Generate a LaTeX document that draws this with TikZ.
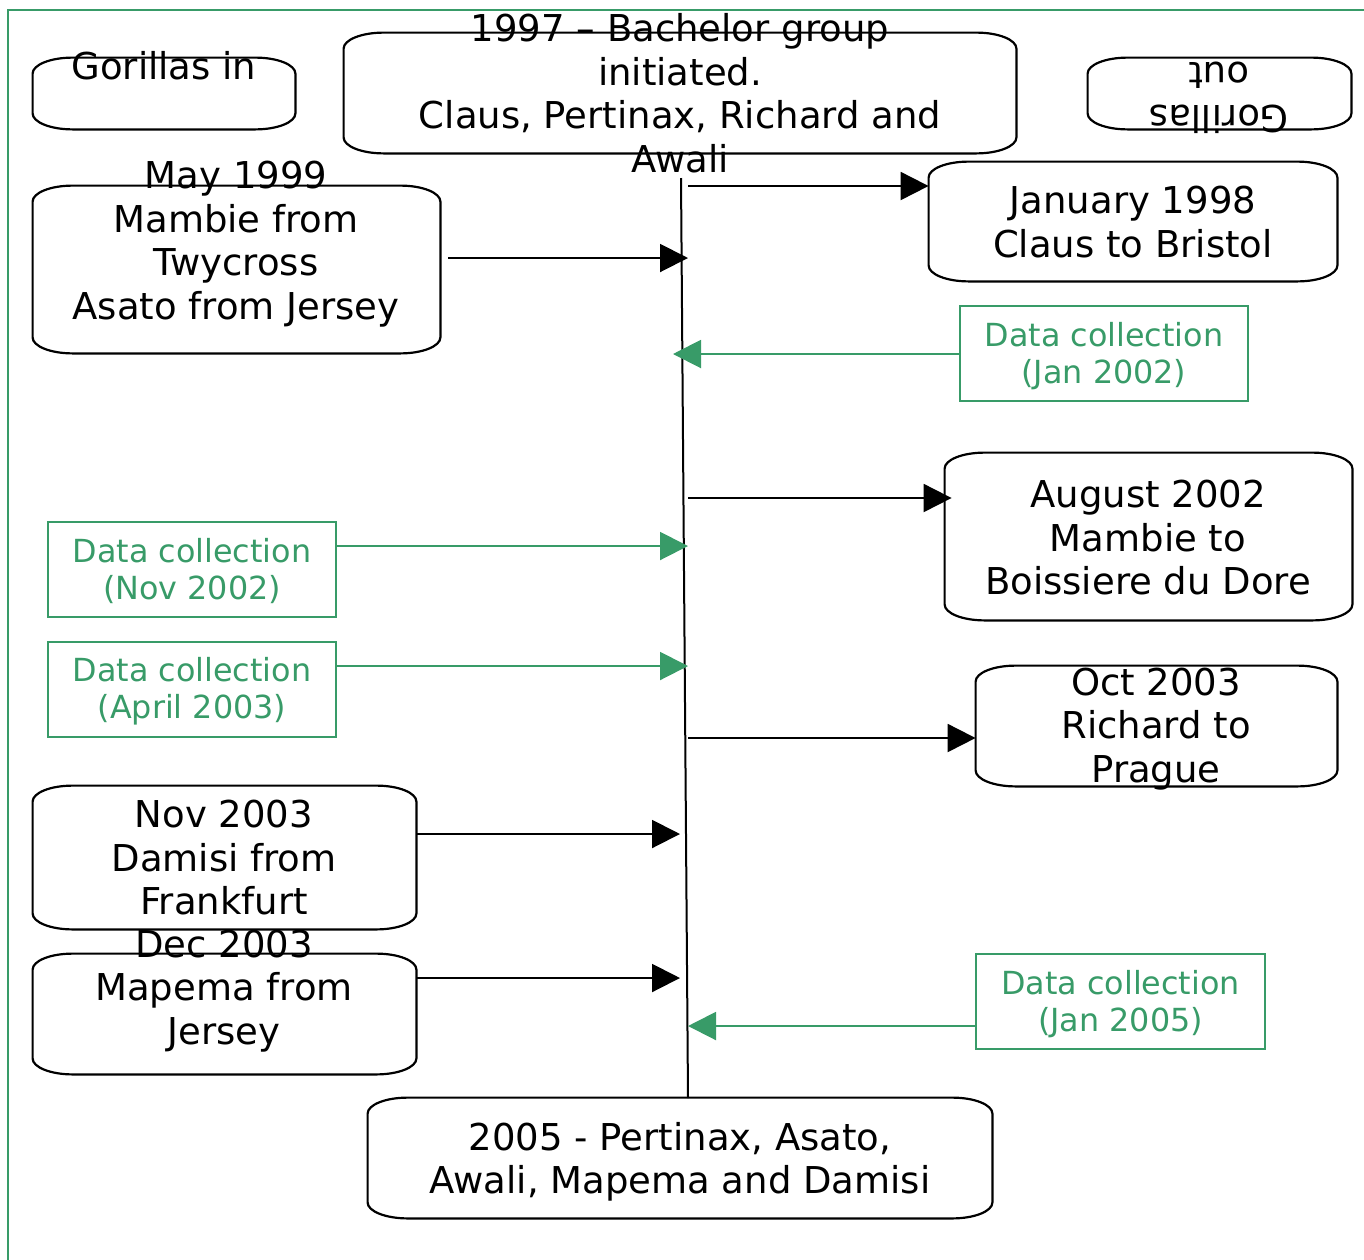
\documentclass[tikz,border=0pt]{standalone}
\usepackage{fontspec}
\setmainfont{DejaVu Sans}
\usetikzlibrary{arrows.meta,calc,fit}

\definecolor{dcgreen}{RGB}{56,155,104}

% box with wide flat corners round a fitted node
\newcommand{\ovalbox}[1]{%
  \draw[line width=1.1pt] ($(#1.south west)+(20pt,0)$) -- ($(#1.south east)+(-20pt,0)$)
    arc[start angle=-90,end angle=0,x radius=20pt,y radius=8pt]
    -- ($(#1.north east)+(0,-8pt)$)
    arc[start angle=0,end angle=90,x radius=20pt,y radius=8pt]
    -- ($(#1.north west)+(20pt,0)$)
    arc[start angle=90,end angle=180,x radius=20pt,y radius=8pt]
    -- ($(#1.south west)+(0,8pt)$)
    arc[start angle=180,end angle=270,x radius=20pt,y radius=8pt] -- cycle;}

\begin{document}
\begin{tikzpicture}[x=0.5pt,y=-0.5pt,
    slot/.style={inner sep=0pt},
    evt/.style={align=center,inner sep=0pt,font=\fontsize{18.5}{21.75}\selectfont},
    dcbox/.style={draw=dcgreen,line width=1pt,inner sep=0pt,align=center,text=dcgreen,
      font=\fontsize{15.9}{18.5}\selectfont},
    blk/.style={line width=1pt,-{Triangle[length=14pt,width=14pt]}},
    grn/.style={draw=dcgreen,line width=1pt,-{Triangle[length=14pt,width=14pt]},dcgreen}]
  \useasboundingbox (0,0) rectangle (1364,1259);

  % frame
  \draw[dcgreen,line width=1pt] (8,10) rectangle (1390,1290);

  % event boxes
  \node[slot,fit={(33,58)(295,129)}] (gin) {};
  \node[slot,fit={(1088,58)(1351,129)}] (gout) {};
  \node[slot,fit={(344,33)(1016,153)}] (start) {};
  \node[slot,fit={(33,186)(440,353)}] (may) {};
  \node[slot,fit={(929,162)(1337,281)}] (jan) {};
  \node[slot,fit={(945,453)(1352,620)}] (aug) {};
  \node[slot,fit={(976,666)(1337,786)}] (oct) {};
  \node[slot,fit={(33,786)(416,929)}] (nov) {};
  \node[slot,fit={(33,954)(416,1074)}] (dec) {};
  \node[slot,fit={(368,1098)(992,1218)}] (fin) {};
  \foreach \b in {gin,gout,start,may,jan,aug,oct,nov,dec,fin} {\ovalbox{\b}}

  % texts of the events
  \node[evt] (gintxt) at (164,66) {Gorillas in};
  \node[evt,rotate=180] (gouttxt) at (1219,98) {Gorillas\\out};
  \node[evt] (starttxt) at (680,93) {1997 -- Bachelor group\\initiated.\\Claus, Pertinax, Richard and\\Awali};
  \node[evt] (maytxt) at (236,244) {May 1999\\Mambie from\\Twycross\\Asato from Jersey};
  \node[evt] (jantxt) at (1133,222) {January 1998\\Claus to Bristol};
  \node[evt] (augtxt) at (1148,538) {August 2002\\Mambie to\\Boissiere du Dore};
  \node[evt] (octtxt) at (1156,729) {Oct 2003\\Richard to\\Prague};
  \node[evt] (novtxt) at (224,858) {Nov 2003\\Damisi from\\Frankfurt};
  \node[evt] (dectxt) at (224,991) {Dec 2003\\Mapema from\\Jersey};
  \node[evt] (fintxt) at (680,1162) {2005 - Pertinax, Asato,\\Awali, Mapema and Damisi};

  % data collections
  \node[dcbox,fit={(960,306)(1248,401)}] (dc1) {};
  \node[dcbox,fit={(48,522)(336,617)}] (dc2) {};
  \node[dcbox,fit={(48,642)(336,737)}] (dc3) {};
  \node[dcbox,fit={(976,954)(1265,1049)}] (dc4) {};
  \node[dcbox,draw=none] (dc1txt) at ([yshift=-1.5pt]dc1.center) {Data collection\\(Jan 2002)};
  \node[dcbox,draw=none] (dc2txt) at ([yshift=-1pt]dc2.center) {Data collection\\(Nov 2002)};
  \node[dcbox,draw=none] (dc3txt) at ([yshift=-1pt]dc3.center) {Data collection\\(April 2003)};
  \node[dcbox,draw=none] (dc4txt) at ([yshift=-1.5pt]dc4.center) {Data collection\\(Jan 2005)};

  % time line
  \coordinate (ttop) at (681,178);
  \coordinate (tbot) at (688,1098);
  \draw[line width=1pt] (ttop) -- (tbot);

  % points on the time line
  \coordinate (t1) at (688,186);
  \coordinate (t2) at (688,258);
  \coordinate (t3) at (688,498);
  \coordinate (t4) at (688,738);
  \coordinate (t5) at (680,834);
  \coordinate (t6) at (680,978);
  \coordinate (g1) at (673,354);
  \coordinate (g2) at (688,546);
  \coordinate (g3) at (688,666);
  \coordinate (g4) at (688,1026);

  \draw[blk] (t1) -- (jan.west |- t1);
  \draw[blk] ([xshift=4pt]may.east |- t2) -- (t2);
  \draw[blk] (t3) -- ([xshift=3.5pt]aug.west |- t3);
  \draw[blk] (t4) -- (oct.west |- t4);
  \draw[blk] (nov.east |- t5) -- (t5);
  \draw[blk] (dec.east |- t6) -- (t6);
  \draw[grn] (dc1.west |- g1) -- (g1);
  \draw[grn] (dc2.east |- g2) -- (g2);
  \draw[grn] (dc3.east |- g3) -- (g3);
  \draw[grn] (dc4.west |- g4) -- (g4);
\end{tikzpicture}
\end{document}
